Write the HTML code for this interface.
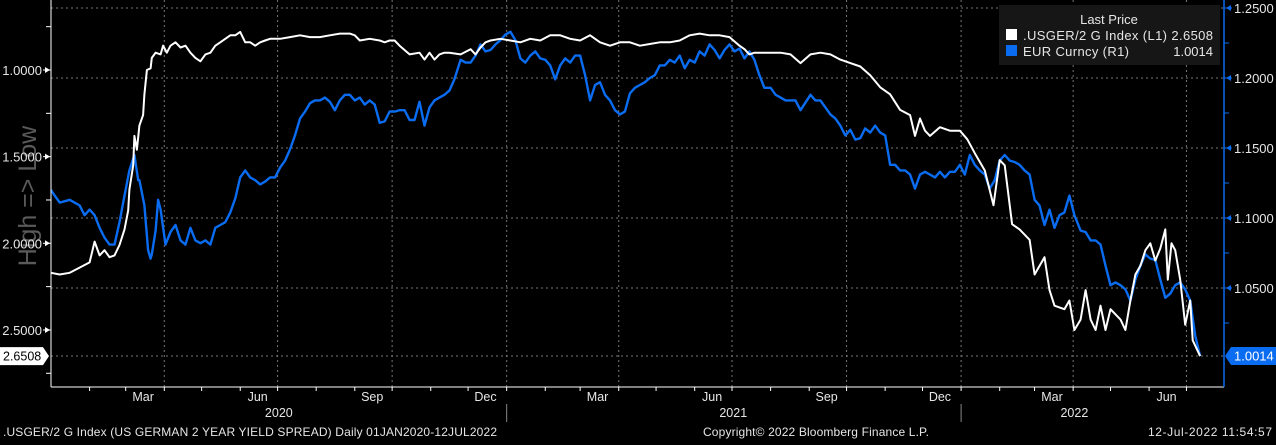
<!DOCTYPE html>
<html><head><meta charset="utf-8">
<style>
html,body{margin:0;padding:0;background:#000;}
body{width:1276px;height:440px;overflow:hidden;font-family:"Liberation Sans",sans-serif;}
svg text{font-family:"Liberation Sans",sans-serif;}
</style></head>
<body>
<svg id="chart" width="1276" height="440" xmlns="http://www.w3.org/2000/svg">
<rect x="0" y="0" width="1276" height="440" fill="#000"/>
<text x="0" y="0" transform="translate(36,196) rotate(-90)" text-anchor="middle" fill="#5a5a5a" font-size="25">High =&gt; Low</text>
<g id="grid"></g>
<g id="series"></g>
<g id="axes"></g>
<g>
<rect x="999" y="5" width="221" height="60" fill="#161616"/>
<text x="1109" y="24" text-anchor="middle" fill="#e6e6e6" font-size="13">Last Price</text>
<rect x="1006" y="29" width="11" height="11" fill="#fff"/>
<text x="1023" y="40" fill="#e6e6e6" font-size="13" textLength="190" lengthAdjust="spacing">.USGER/2 G Index  (L1) 2.6508</text>
<rect x="1006" y="45" width="11" height="11" fill="#0a6cf0"/>
<text x="1023" y="56" fill="#e6e6e6" font-size="13" textLength="106" lengthAdjust="spacing">EUR Curncy  (R1)</text>
<text x="1213" y="56" text-anchor="end" fill="#e6e6e6" font-size="13">1.0014</text>
</g>
<text x="3" y="436" fill="#e6e6e6" font-size="12" textLength="494" lengthAdjust="spacing">.USGER/2 G Index (US GERMAN 2 YEAR YIELD SPREAD)  Daily 01JAN2020-12JUL2022</text>
<text x="703" y="436" fill="#e6e6e6" font-size="12" textLength="226" lengthAdjust="spacing">Copyright© 2022 Bloomberg Finance L.P.</text>
<text x="1272" y="436" text-anchor="end" fill="#e6e6e6" font-size="12" textLength="124" lengthAdjust="spacing">12-Jul-2022 11:54:57</text>
</svg>
<script>
const spreadDays=[0,7,15,23,31,35,39,43,47,51,55,59,62,63,66,67,69,71,74,75,77,80,81,84,88,90,93,96,100,104,108,112,116,120,124,128,132,136,140,144,148,152,156,160,164,168,172,176,184,192,200,208,216,224,232,240,244,248,256,264,268,272,276,280,288,296,300,304,308,312,316,320,329,337,341,345,349,353,361,369,377,385,393,401,409,417,425,433,441,449,457,465,473,481,489,497,505,513,521,529,537,545,553,557,561,565,569,578,586,594,602,610,618,626,634,642,650,658,666,674,682,690,694,698,702,706,714,722,730,736,742,750,757,762,766,772,778,786,790,798,802,806,814,818,822,827,831,835,839,843,847,851,859,863,867,871,875,879,883,887,891,895,897,900,903,907,911,915,917,923];
const spreadValues=[2.17,2.18,2.17,2.14,2.11,1.99,2.07,2.04,2.08,2.07,2.01,1.92,1.81,1.69,1.55,1.38,1.46,1.32,1.26,1.14,1.00,0.99,0.93,0.90,0.91,0.86,0.90,0.86,0.84,0.87,0.86,0.90,0.93,0.95,0.91,0.90,0.86,0.84,0.82,0.80,0.80,0.78,0.84,0.84,0.86,0.84,0.83,0.82,0.82,0.81,0.80,0.81,0.81,0.80,0.79,0.79,0.80,0.83,0.82,0.83,0.84,0.83,0.83,0.86,0.91,0.90,0.94,0.90,0.94,0.91,0.90,0.90,0.91,0.88,0.91,0.87,0.84,0.83,0.82,0.83,0.84,0.82,0.83,0.80,0.80,0.82,0.83,0.80,0.84,0.86,0.84,0.84,0.86,0.85,0.84,0.84,0.83,0.80,0.79,0.80,0.80,0.81,0.86,0.88,0.91,0.90,0.90,0.90,0.90,0.91,0.96,0.91,0.90,0.91,0.94,0.96,0.98,1.03,1.10,1.14,1.23,1.26,1.38,1.28,1.35,1.38,1.33,1.35,1.35,1.40,1.48,1.58,1.78,1.52,1.55,1.89,1.92,1.98,2.18,2.08,2.27,2.36,2.38,2.33,2.50,2.44,2.27,2.44,2.50,2.36,2.50,2.38,2.44,2.50,2.33,2.18,2.13,2.04,2.00,2.10,2.03,1.92,2.21,2.00,2.04,2.21,2.47,2.33,2.56,2.6508];
const eurDays=[0,3,7,15,23,27,31,35,39,43,47,51,55,59,63,67,70,71,75,78,80,81,84,86,88,92,96,100,104,108,112,116,120,124,128,132,136,140,144,148,152,156,160,164,168,172,176,180,184,188,192,196,200,204,208,212,216,220,224,228,232,236,240,244,248,252,256,260,264,268,272,276,280,284,288,292,296,300,304,308,312,316,320,324,329,333,337,341,345,349,353,357,361,365,369,373,377,381,385,389,393,397,401,405,409,413,417,421,425,429,433,437,441,445,449,453,457,461,465,469,473,477,481,485,489,493,497,501,505,509,513,517,521,525,529,533,537,541,545,549,553,557,561,565,569,573,578,582,586,590,594,598,602,610,614,618,626,630,634,638,642,646,650,654,658,662,666,670,674,678,682,686,690,694,698,702,706,710,714,718,722,726,730,734,738,742,746,750,754,758,762,766,770,774,778,782,786,790,794,798,802,806,810,814,818,822,827,831,835,839,843,847,851,855,859,863,867,871,875,879,883,887,891,895,899,903,907,911,915,919,923];
const eurValues=[1.120,1.116,1.111,1.113,1.109,1.102,1.106,1.102,1.093,1.086,1.081,1.081,1.097,1.116,1.134,1.145,1.127,1.127,1.109,1.077,1.071,1.074,1.091,1.113,1.106,1.081,1.090,1.095,1.084,1.081,1.093,1.084,1.082,1.084,1.081,1.093,1.095,1.097,1.104,1.114,1.129,1.134,1.129,1.127,1.124,1.126,1.129,1.129,1.136,1.141,1.149,1.159,1.171,1.176,1.182,1.184,1.184,1.186,1.183,1.177,1.184,1.188,1.188,1.184,1.186,1.181,1.184,1.181,1.168,1.169,1.176,1.176,1.177,1.177,1.170,1.170,1.183,1.166,1.179,1.184,1.186,1.188,1.191,1.199,1.213,1.211,1.211,1.216,1.224,1.219,1.220,1.224,1.227,1.231,1.233,1.227,1.214,1.211,1.216,1.219,1.214,1.213,1.209,1.199,1.209,1.214,1.211,1.216,1.216,1.202,1.184,1.195,1.197,1.188,1.184,1.177,1.174,1.176,1.189,1.193,1.195,1.197,1.200,1.202,1.209,1.209,1.213,1.211,1.216,1.207,1.213,1.211,1.219,1.216,1.224,1.220,1.214,1.220,1.224,1.219,1.221,1.214,1.219,1.213,1.202,1.193,1.193,1.188,1.186,1.184,1.184,1.184,1.177,1.188,1.184,1.184,1.174,1.171,1.166,1.159,1.163,1.156,1.157,1.164,1.161,1.166,1.161,1.159,1.138,1.138,1.134,1.134,1.131,1.121,1.131,1.133,1.131,1.129,1.133,1.129,1.133,1.133,1.138,1.131,1.145,1.138,1.134,1.131,1.121,1.127,1.141,1.145,1.141,1.140,1.138,1.134,1.131,1.113,1.109,1.095,1.106,1.093,1.102,1.104,1.116,1.102,1.091,1.090,1.084,1.084,1.081,1.066,1.052,1.054,1.052,1.049,1.041,1.056,1.066,1.074,1.071,1.070,1.056,1.043,1.046,1.052,1.054,1.049,1.041,1.016,1.0014];
const leftTicks=["1.0000","1.5000","2.0000","2.5000"];
const rightTicks=["1.2500","1.2000","1.1500","1.1000","1.0500"];
const monthLabels=["Mar","Jun","Sep","Dec","Mar","Jun","Sep","Dec","Mar","Jun"];
const monthLabelDays=[74,166,258,349,439,531,623,714,804,896];
const yearLabels=["2020","2021","2022"];
const yearLabelDays=[183,548,822];

const NS="http://www.w3.org/2000/svg";
const X0=51,X1=1224,Y1=387;
const xS=d=>X0+d*1.245;
const yL=v=>70+(v-1.0)*173.3;
const yR=v=>78+(1.2-v)*1400;
function mk(tag,attrs,parent){const e=document.createElementNS(NS,tag);for(const k in attrs)e.setAttribute(k,attrs[k]);parent.appendChild(e);return e;}
const grid=document.getElementById('grid'),axes=document.getElementById('axes'),series=document.getElementById('series');

[1.25,1.20,1.15,1.10,1.05,1.0014].forEach(v=>{
  const l=mk('line',{x1:X0,x2:X1,y1:yR(v),y2:yR(v),stroke:'#777','stroke-width':1,'stroke-dasharray':'2,3'},grid);
  
  
});
[91,182,274,366,456,547,639,731,821,912].forEach(d=>{
  const l=mk('line',{x1:xS(d),x2:xS(d),y1:0,y2:Y1,stroke:'#777','stroke-width':1,'stroke-dasharray':'2,3'},grid);
  
  
});

function path(days,vals,sc,color,name,w){
  let d='';days.forEach((dd,i)=>{d+=(i?'L':'M')+xS(dd).toFixed(1)+','+sc(vals[i]).toFixed(1);});
  const p=mk('path',{d:d,fill:'none',stroke:color,'stroke-width':w,'stroke-linejoin':'round'},series);
  
  
}
path(eurDays,eurValues,yR,'#0a6cf0','eur-line',2.4);
path(spreadDays,spreadValues,yL,'#ffffff','spread-line',2);

let a=mk('line',{x1:X0,x2:X0,y1:0,y2:Y1,stroke:'#fff','stroke-width':1},axes);


a=mk('line',{x1:X0,x2:X1,y1:Y1,y2:Y1,stroke:'#fff','stroke-width':1},axes);


a=mk('line',{x1:X1,x2:X1,y1:0,y2:Y1,stroke:'#0a6cf0','stroke-width':1.5},axes);



[0.75,1.25,1.75,2.25,2.75].forEach(v=>{mk('line',{x1:X0-5,x2:X0,y1:yL(v),y2:yL(v),stroke:'#fff'},axes);});
leftTicks.forEach(t=>{
  const y=yL(parseFloat(t));
  mk('path',{d:`M${X0-6},${y-3}L${X0-1},${y}L${X0-6},${y+3}Z`,fill:'#fff'},axes);
  mk('line',{x1:X0-8,x2:X0,y1:y,y2:y,stroke:'#fff'},axes);
  const tx=mk('text',{x:X0-9,y:y+5,'text-anchor':'end',fill:'#e6e6e6','font-size':13},axes);
  tx.textContent=t;
  
  
});
const lb=mk('path',{d:`M0,${yL(2.6508)-9}H43L49,${yL(2.6508)}L43,${yL(2.6508)+9}H0Z`,fill:'#fff'},axes);


let t=mk('text',{x:3,y:yL(2.6508)+4.5,fill:'#000','font-size':12.5},axes);t.textContent='2.6508';

[1.225,1.175,1.125,1.075,1.025].forEach(v=>{mk('line',{x1:X1,x2:X1+5,y1:yR(v),y2:yR(v),stroke:'#0a6cf0'},axes);});
rightTicks.forEach(s=>{
  const y=yR(parseFloat(s));
  mk('path',{d:`M${X1+7},${y-3}L${X1+2},${y}L${X1+7},${y+3}Z`,fill:'#0a6cf0'},axes);
  mk('line',{x1:X1,x2:X1+8,y1:y,y2:y,stroke:'#0a6cf0'},axes);
  const tx=mk('text',{x:X1+10,y:y+5,fill:'#e6e6e6','font-size':13},axes);
  tx.textContent=s;
  
  
});
const ry=yR(1.0014);
const rb=mk('path',{d:`M${X1+1},${ry}L${X1+7},${ry-9}H1276V${ry+9}H${X1+7}Z`,fill:'#0a6cf0'},axes);


t=mk('text',{x:X1+10,y:ry+4.5,fill:'#fff','font-size':13},axes);t.textContent='1.0014';

for(let m=1;m<=31;m++){
  const dt=new Date(Date.UTC(2020,m,1));const d=(dt-Date.UTC(2020,0,1))/864e5;
  if(d>923)break;
  mk('line',{x1:xS(d),x2:xS(d),y1:Y1,y2:Y1+4,stroke:'#fff'},axes);
}
monthLabels.forEach((s,i)=>{
  const tx=mk('text',{x:xS(monthLabelDays[i]),y:401,'text-anchor':'middle',fill:'#e6e6e6','font-size':12.5},axes);
  tx.textContent=s;
  
  
});
yearLabels.forEach((s,i)=>{
  const tx=mk('text',{x:xS(yearLabelDays[i]),y:417,'text-anchor':'middle',fill:'#e6e6e6','font-size':12.5},axes);
  tx.textContent=s;
  
  
});
[366,731].forEach(d=>{mk('line',{x1:xS(d),x2:xS(d),y1:404,y2:422,stroke:'#888'},axes);});
</script>
</body></html>
